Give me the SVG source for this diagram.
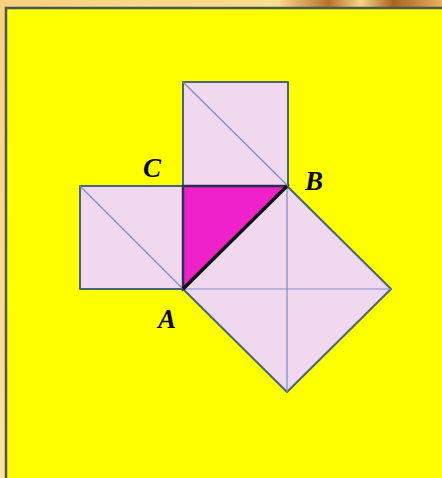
<svg xmlns="http://www.w3.org/2000/svg" width="442" height="478" viewBox="0 0 442 478">
<defs>
<linearGradient id="bg" x1="0" y1="0" x2="1" y2="1">
<stop offset="0" stop-color="#f8d080"/>
<stop offset="0.5" stop-color="#fbe49a"/>
<stop offset="1" stop-color="#f4c070"/>
</linearGradient>
<linearGradient id="streak" x1="0" y1="0" x2="1" y2="0">
<stop offset="0" stop-color="#f6d48a"/>
<stop offset="0.3" stop-color="#b8742a"/>
<stop offset="0.5" stop-color="#f6d48a"/>
<stop offset="0.7" stop-color="#a8641e"/>
<stop offset="1" stop-color="#e8b060"/>
</linearGradient>
</defs>
<style>
.sq{fill:#f0d8ee;stroke:#4a6478;stroke-width:2;stroke-linejoin:round}
.dg{stroke:#7a8cc8;stroke-width:1.2;fill:none}
.lbl{font-family:"Liberation Serif",serif;font-weight:bold;font-style:italic;font-size:27px;fill:#0a0a0a}
</style>
<rect x="0" y="0" width="442" height="478" fill="url(#bg)"/>
<rect x="280" y="0" width="162" height="9" fill="url(#streak)"/>
<rect x="6" y="8" width="440" height="474" fill="#ffff00" stroke="#4a5654" stroke-width="2.5"/>
<g id="square-top"><rect class="sq" x="183" y="82" width="105" height="104"/></g>
<g id="square-left"><rect class="sq" x="80" y="186" width="103" height="103"/></g>
<g id="square-hyp"><polygon class="sq" points="287,186 391,289 287,392 183,289"/></g>
<g id="triangle"><polygon points="183,186 287,186 183,289" fill="#ee22c8" stroke="#2a3050" stroke-width="2.5" stroke-linejoin="miter"/></g>
<g id="connectors">
<line class="dg" x1="183" y1="82" x2="288" y2="186"/>
<line class="dg" x1="80" y1="186" x2="183" y2="289"/>
<line class="dg" x1="287" y1="186" x2="287" y2="392"/>
<line class="dg" x1="183" y1="289" x2="391" y2="289"/>
<line x1="183" y1="289" x2="287" y2="186" stroke="#111" stroke-width="3.5"/>
</g>
<g id="labels">
<text class="lbl" x="143" y="177">C</text>
<text class="lbl" x="305" y="190">B</text>
<text class="lbl" x="158" y="328">A</text>
</g>
</svg>
